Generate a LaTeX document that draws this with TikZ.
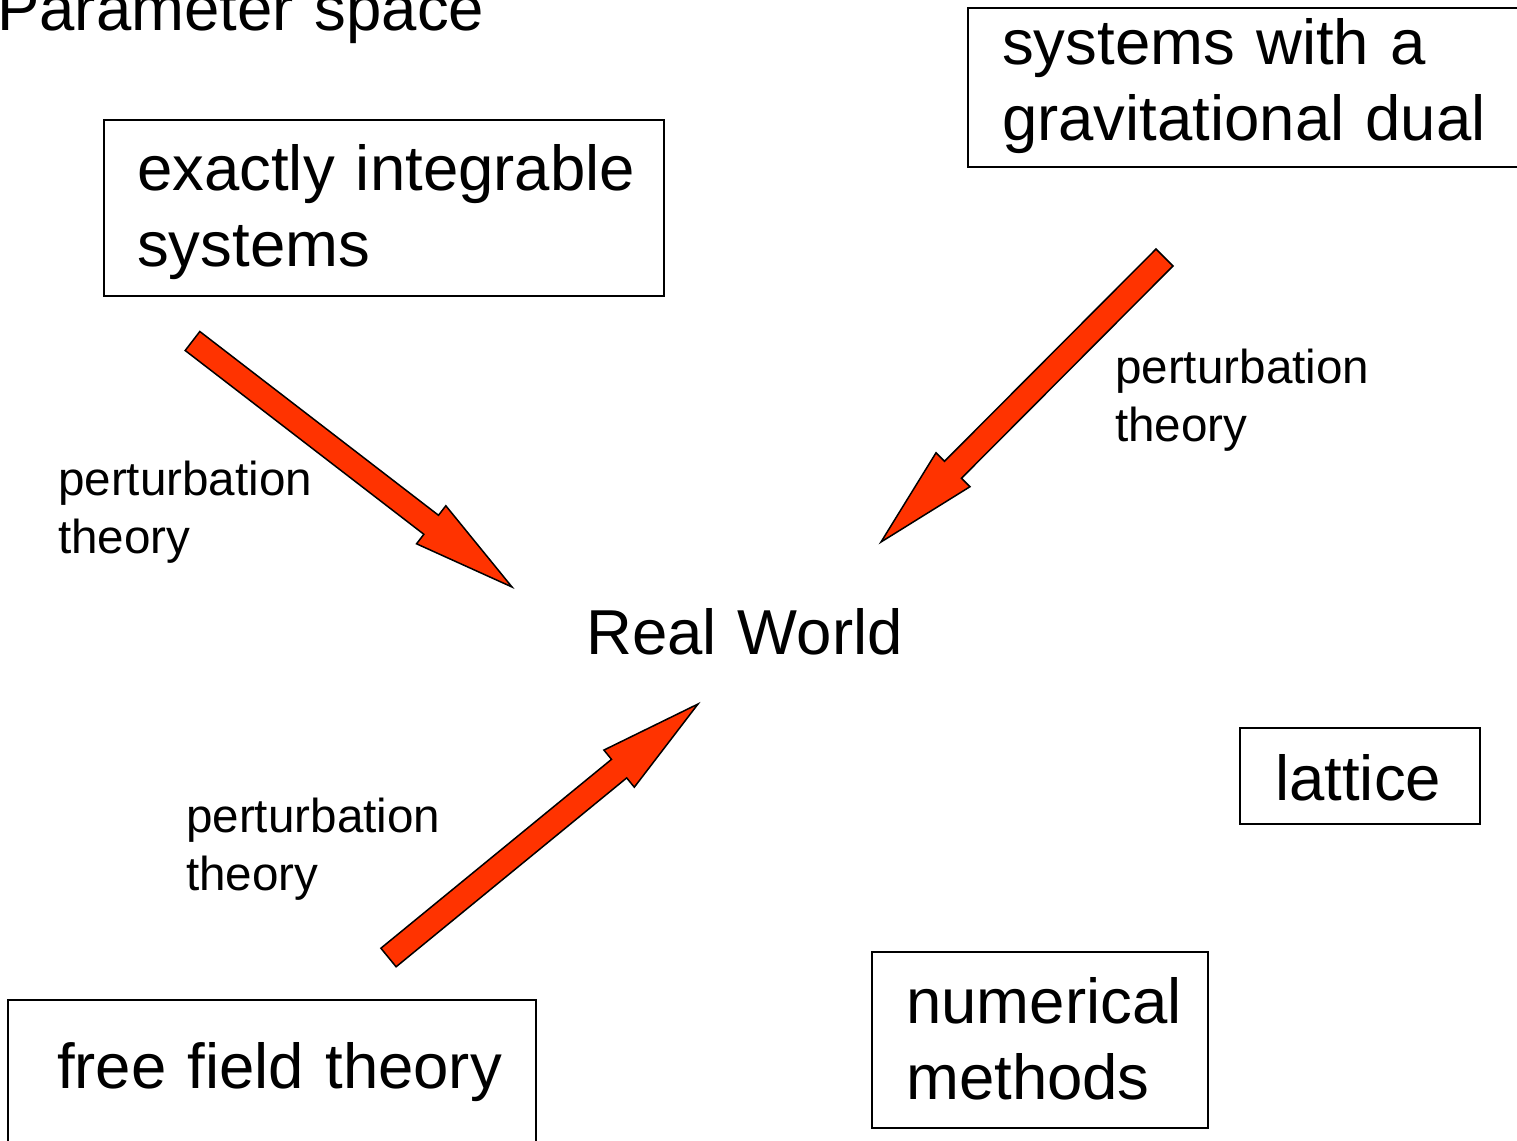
\documentclass[tikz,border=0pt]{standalone}
\usepackage{fontspec}
\setmainfont{Liberation Sans}
\usetikzlibrary{calc}
\definecolor{arrowred}{HTML}{FF3300}
\tikzset{
  box/.style={draw=black, line width=2pt, inner sep=0pt, anchor=north west},
  bigtxt/.style={anchor=base west, inner sep=0pt, align=left, text width=700pt, font=\fontsize{63.5pt}{76pt}\selectfont},
  smalltxt/.style={anchor=base west, inner sep=0pt, align=left, text width=400pt, font=\fontsize{47.6pt}{58pt}\selectfont},
  blockarrow/.style={fill=arrowred, draw=black, line width=1.5pt, line join=miter},
}
\newcommand\blockarr[2]{%
  \coordinate (hb) at ($(#2)!102pt!(#1)$);
  \draw[blockarrow] ($(#1)!12pt!90:(#2)$) -- ($(hb)!12pt!90:(#2)$) -- ($(hb)!24pt!90:(#2)$) -- (#2)
    -- ($(hb)!24pt!-90:(#2)$) -- ($(hb)!12pt!-90:(#2)$) -- ($(#1)!12pt!-90:(#2)$) -- cycle;}
\begin{document}
\begin{tikzpicture}[x=1pt,y=-1pt]
\clip (0,0) rectangle (1517,1140);
\fill[white] (0,0) rectangle (1517,1140);
% boxes
\node[box, minimum width=560pt, minimum height=176pt] (intbox) at (103,119) {};
\node[box, minimum width=570pt, minimum height=159pt] (gravbox) at (967,7) {};
\node[box, minimum width=240pt, minimum height=96pt] (latbox) at (1239,727) {};
\node[box, minimum width=336pt, minimum height=176pt] (numbox) at (871,951) {};
\node[box, minimum width=528pt, minimum height=170pt] (freebox) at (7,999) {};
% texts
\node[bigtxt] (param) at (-3,31) {Parameter space};
\node[bigtxt] (inttxt) at (137,190) {exactly integrable\\systems};
\node[bigtxt] (gravtxt) at (1002,64) {systems with a\\gravitational dual};
\node[bigtxt] (lattxt) at (1275,800) {lattice};
\node[bigtxt] (numtxt) at (906,1023) {numerical\\methods};
\node[bigtxt] (freetxt) at (57,1088) {free field theory};
\node[bigtxt] (real) at (586,654) {Real World};
\node[smalltxt] (pt1) at (58,495) {perturbation\\theory};
\node[smalltxt] (pt2) at (1115,383) {perturbation\\theory};
\node[smalltxt] (pt3) at (186,832) {perturbation\\theory};
% arrows
\coordinate (tail1) at (192.5,341);
\coordinate (tip1) at (512,587);
\coordinate (tail2) at (1164.5,257.5);
\coordinate (tip2) at (881,542);
\coordinate (tail3) at (388.5,957.5);
\coordinate (tip3) at (698,704);
\blockarr{tail1}{tip1}
\blockarr{tail2}{tip2}
\blockarr{tail3}{tip3}
\end{tikzpicture}
\end{document}
